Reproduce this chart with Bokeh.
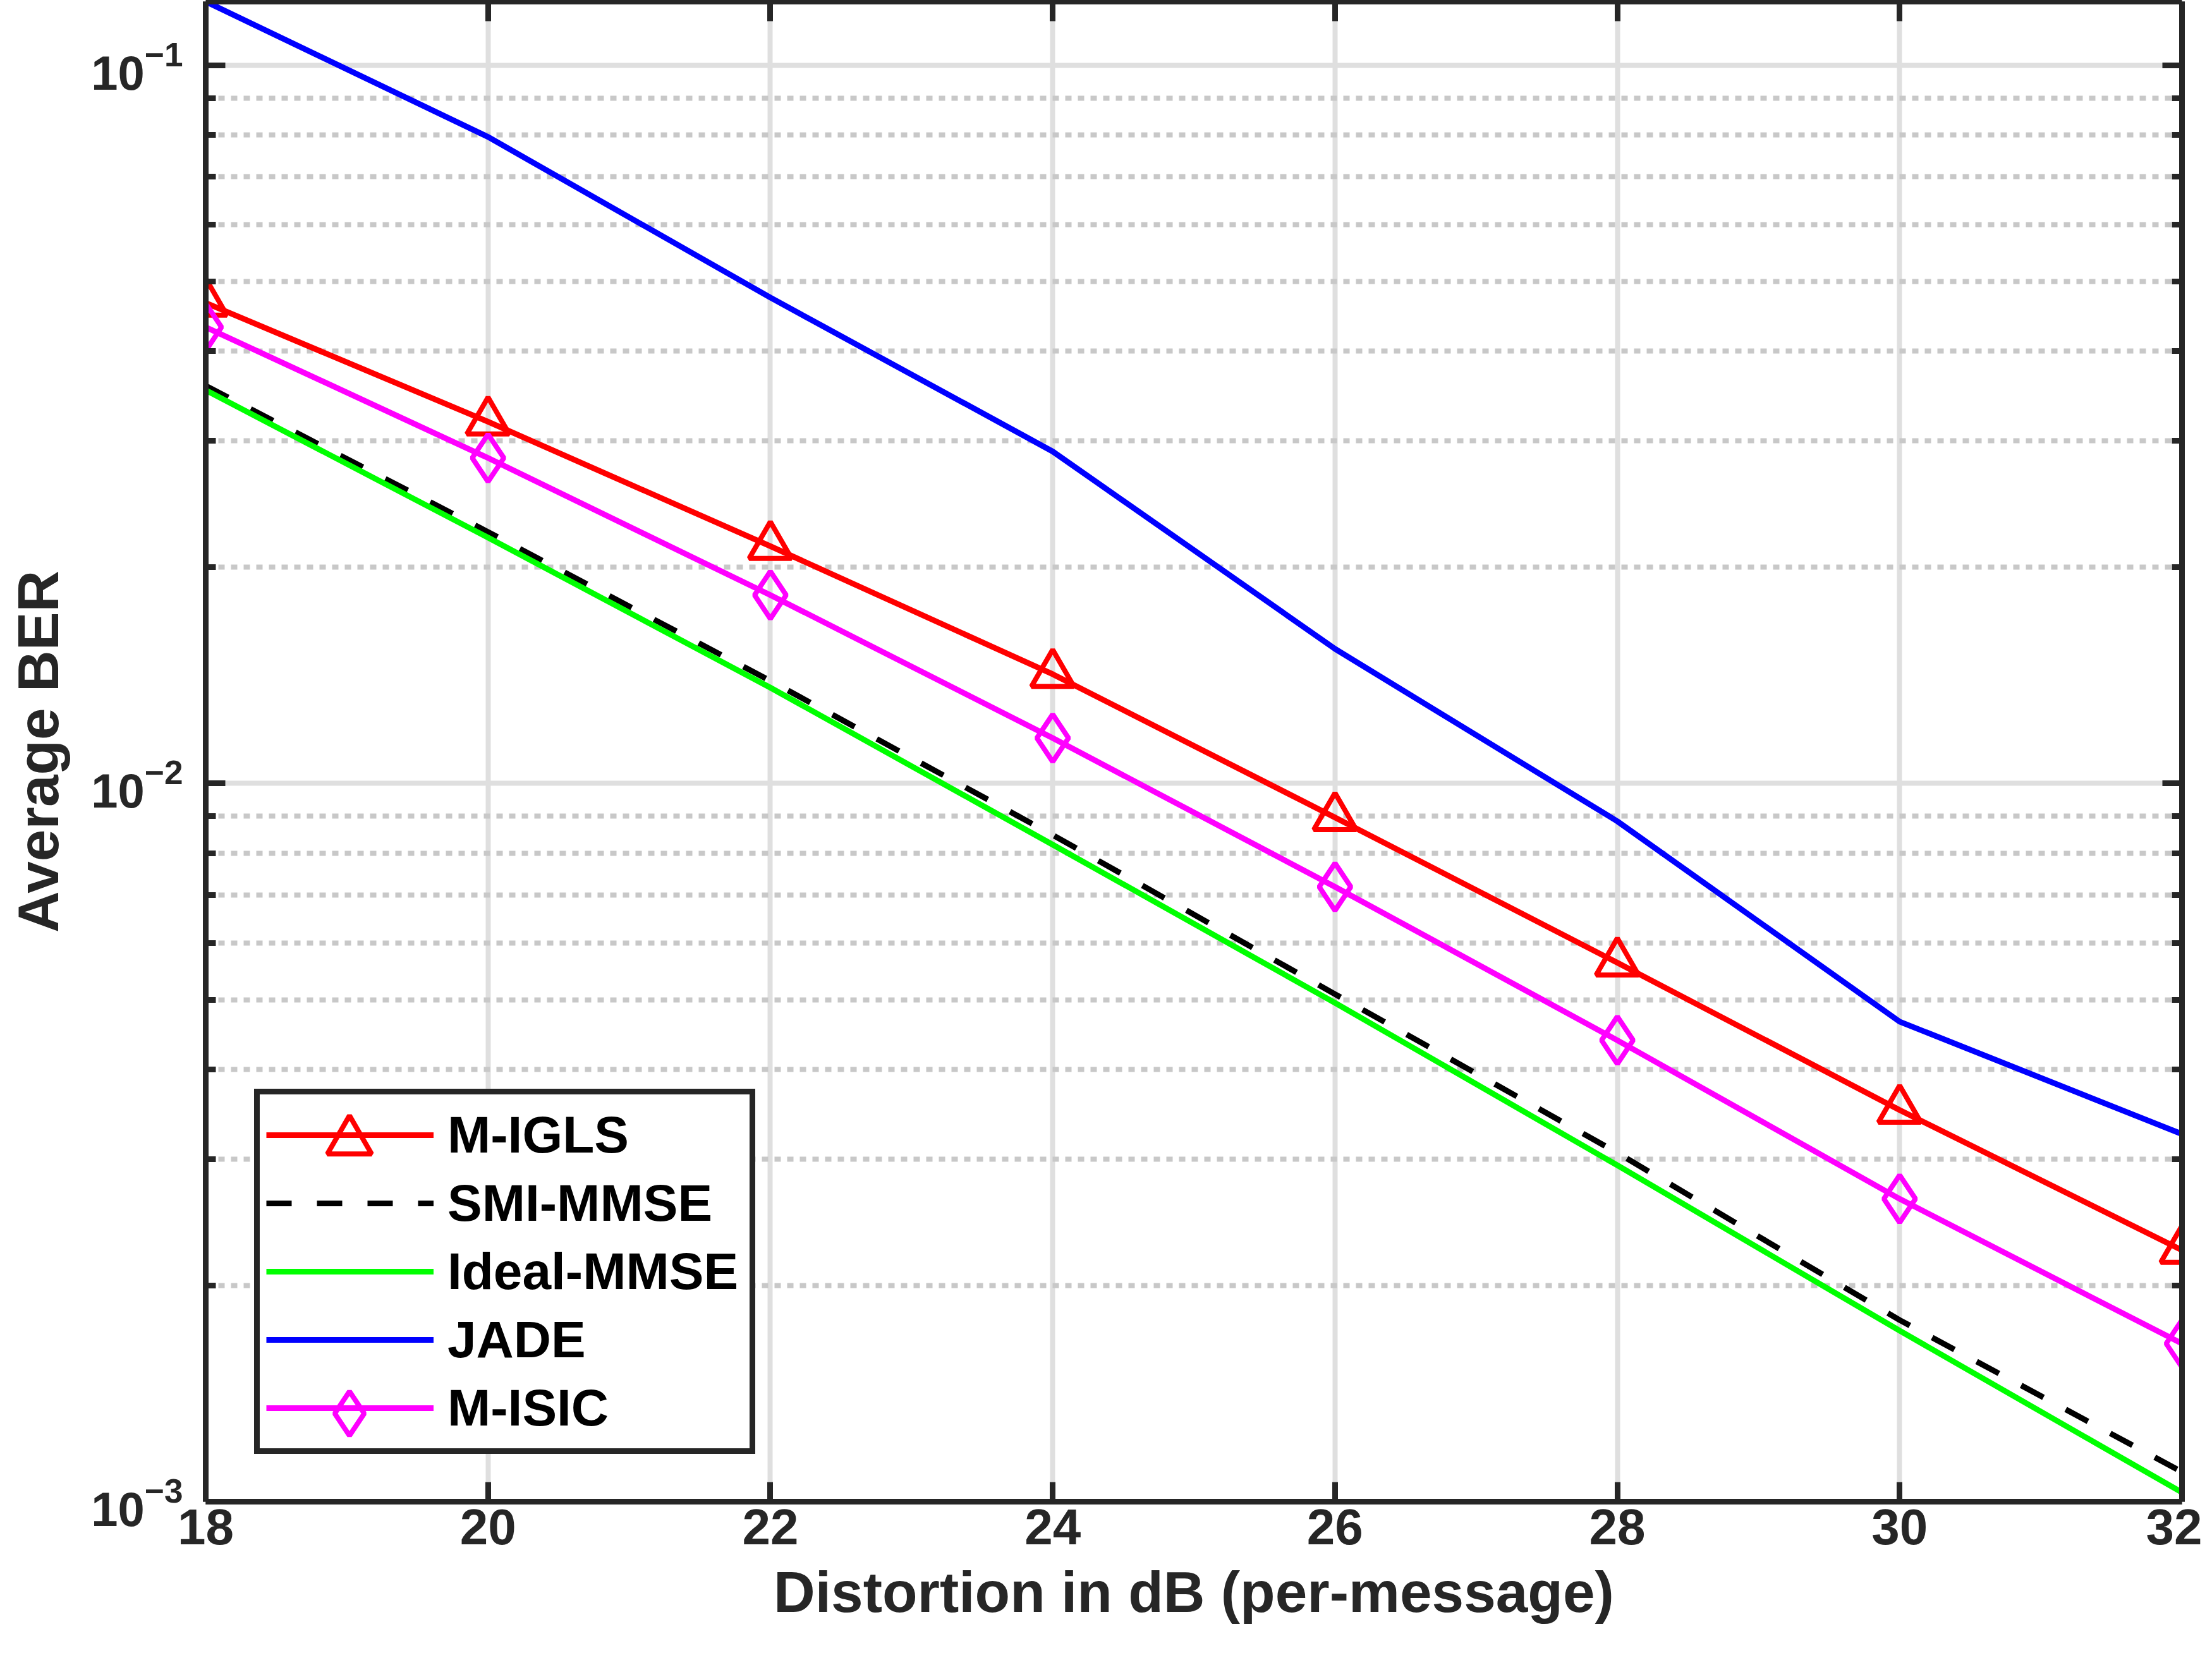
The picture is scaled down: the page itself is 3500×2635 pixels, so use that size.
from bokeh.plotting import figure
from bokeh.models import (Range1d, FixedTicker, LogAxis, LinearAxis, Legend,
                          LegendItem, CustomJSTickFormatter)
from bokeh.embed import file_html
from bokeh.resources import INLINE

# ---------------- data ----------------
distortion_db = [18, 20, 22, 24, 26, 28, 30, 32]
ber_migls = [0.0467, 0.0319, 0.0214, 0.0142, 0.00897, 0.00563, 0.00351, 0.00224]
ber_smi_mmse = [0.0358, 0.0224, 0.0139, 0.00848, 0.00509, 0.00306, 0.00179, 0.00110]
ber_ideal_mmse = [0.0353, 0.0220, 0.0136, 0.00822, 0.00495, 0.00294, 0.00173, 0.00103]
ber_jade = [0.1227, 0.0795, 0.0475, 0.0290, 0.0154, 0.00886, 0.00466, 0.00325]
ber_misic = [0.0432, 0.0284, 0.0183, 0.01157, 0.00718, 0.00439, 0.00264, 0.00166]

series_labels = ["M-IGLS", "SMI-MMSE", "Ideal-MMSE", "JADE", "M-ISIC"]

x_ticks = [18, 20, 22, 24, 26, 28, 30, 32]
y_major_ticks = [1e-3, 1e-2, 1e-1]
y_minor_ticks = [m * 10.0 ** e for e in (-3, -2) for m in range(2, 10)]

FONT = "Liberation Sans"
AX_COLOR = "#262626"

p = figure(width=3484, height=2619,
           x_range=Range1d(18, 32), y_range=Range1d(1e-3, 0.1227),
           y_axis_type="log", output_backend="svg", toolbar_location=None,
           min_border_left=325, min_border_right=32,
           min_border_top=2, min_border_bottom=243)
p.outline_line_color = None
p.background_fill_color = "white"
p.border_fill_color = "white"


def style_axis(ax):
    ax.axis_line_color = AX_COLOR
    ax.axis_line_width = 9
    ax.major_tick_line_color = AX_COLOR
    ax.major_tick_line_width = 9
    ax.minor_tick_line_color = AX_COLOR
    ax.minor_tick_line_width = 9
    ax.major_tick_in = 31
    ax.major_tick_out = 0
    ax.minor_tick_in = 16
    ax.minor_tick_out = 0
    ax.major_label_text_font = FONT
    ax.major_label_text_font_style = "bold"
    ax.major_label_text_color = AX_COLOR
    ax.axis_label_text_font = FONT
    ax.axis_label_text_font_style = "bold"
    ax.axis_label_text_color = AX_COLOR


xaxis = p.below[0]
yaxis = p.left[0]
style_axis(xaxis)
style_axis(yaxis)
xaxis.ticker = FixedTicker(ticks=x_ticks, minor_ticks=[])
yaxis.ticker = FixedTicker(ticks=y_major_ticks, minor_ticks=y_minor_ticks)
xaxis.major_label_text_font_size = "80px"
yaxis.major_label_text_font_size = "76px"
xaxis.major_label_standoff = 12
yaxis.major_label_standoff = 36
xaxis.axis_label = "Distortion in dB (per-message)"
yaxis.axis_label = "Average BER"
xaxis.axis_label_text_font_size = "91px"
yaxis.axis_label_text_font_size = "91px"
xaxis.axis_label_standoff = 22
yaxis.axis_label_standoff = 30

blank = "return ''"
top_axis = LinearAxis(ticker=FixedTicker(ticks=x_ticks, minor_ticks=[]),
                      formatter=CustomJSTickFormatter(code=blank))
right_axis = LogAxis(ticker=FixedTicker(ticks=y_major_ticks, minor_ticks=y_minor_ticks),
                     formatter=CustomJSTickFormatter(code=blank))
for ax in (top_axis, right_axis):
    style_axis(ax)
    ax.major_label_text_font_size = "1px"
    ax.major_label_standoff = 0
p.add_layout(top_axis, "above")
p.add_layout(right_axis, "right")

# grids
p.xgrid.ticker = FixedTicker(ticks=x_ticks, minor_ticks=[])
p.ygrid.ticker = FixedTicker(ticks=y_major_ticks, minor_ticks=y_minor_ticks)
p.xgrid.grid_line_color = "#dfdfdf"
p.xgrid.grid_line_width = 8
p.ygrid.grid_line_color = "#dfdfdf"
p.ygrid.grid_line_width = 8
p.ygrid.minor_grid_line_color = "#c8c8c8"
p.ygrid.minor_grid_line_width = 8
p.ygrid.minor_grid_line_dash = "10 10"

LW = 9
r1 = p.line(distortion_db, ber_migls, line_color="#ff0000", line_width=LW)
s1 = p.scatter(distortion_db, ber_migls, marker="triangle", size=67,
               line_color="#ff0000", line_width=8, fill_alpha=0)
r2 = p.line(distortion_db, ber_smi_mmse, line_color="#000000", line_width=LW,
            line_dash="40 40")
r3 = p.line(distortion_db, ber_ideal_mmse, line_color="#00ff00", line_width=LW)
r4 = p.line(distortion_db, ber_jade, line_color="#0000ff", line_width=LW)
r5 = p.line(distortion_db, ber_misic, line_color="#ff00ff", line_width=LW)
s5 = p.scatter(distortion_db, ber_misic, marker="diamond", size=75,
               line_color="#ff00ff", line_width=8, fill_alpha=0)

# main legend: lines + labels, boxed
legend = Legend(items=[
    LegendItem(label=series_labels[0], renderers=[r1]),
    LegendItem(label=series_labels[1], renderers=[r2]),
    LegendItem(label=series_labels[2], renderers=[r3]),
    LegendItem(label=series_labels[3], renderers=[r4]),
    LegendItem(label=series_labels[4], renderers=[r5]),
], location=(77, 75))
legend.label_text_font = FONT
legend.label_text_font_style = "bold"
legend.label_text_font_size = "82px"
legend.label_text_color = "black"
legend.glyph_width = 265
legend.glyph_height = 108
legend.label_height = 108
legend.label_width = 468
legend.label_standoff = 22
legend.padding = 10
legend.spacing = 0
legend.margin = 0
legend.border_line_color = AX_COLOR
legend.border_line_width = 9
legend.border_line_alpha = 1.0
legend.background_fill_color = "white"
legend.background_fill_alpha = 1.0
p.add_layout(legend)

# marker overlay legend: big markers on the first and last rows
marker_legend = Legend(items=[
    LegendItem(label=" ", renderers=[s1]),
    LegendItem(label=" ", renderers=[s5]),
], location=(140, 52))
marker_legend.glyph_width = 175
marker_legend.glyph_height = 175
marker_legend.label_height = 175
marker_legend.label_width = 1
marker_legend.label_standoff = 0
marker_legend.label_text_font_size = "2px"
marker_legend.padding = 0
marker_legend.spacing = 256
marker_legend.margin = 0
marker_legend.border_line_color = None
marker_legend.background_fill_alpha = 0
p.add_layout(marker_legend)

open("out.html", "w").write(file_html(p, INLINE))
